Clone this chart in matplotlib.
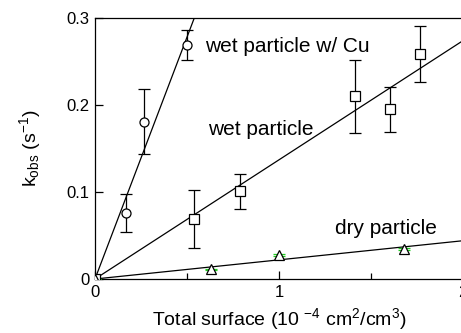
import numpy as np
import matplotlib
matplotlib.use("Agg")
import matplotlib.pyplot as plt

plt.rcParams["font.family"] = ["Liberation Sans", "DejaVu Sans"]
plt.rcParams["mathtext.fontset"] = "custom"
plt.rcParams["mathtext.rm"] = "Liberation Sans"
plt.rcParams["mathtext.it"] = "Liberation Sans:italic"

# wet particle w/ Cu (circulos)
cu_x = [0.0, 0.168, 0.266, 0.502]
cu_y = [0.0, 0.076, 0.181, 0.269]
cu_err = [0.0, 0.022, 0.037, 0.017]
cu_slope = 0.556

# wet particle (quadrados)
wet_x = [0.0, 0.54, 0.788, 1.413, 1.603, 1.766]
wet_y = [0.0, 0.069, 0.101, 0.210, 0.195, 0.259]
wet_err = [0.0, 0.033, 0.020, 0.042, 0.026, 0.032]
wet_slope = 0.137

# dry particle (triangulos)
dry_x = [0.0, 0.630, 1.0, 1.68]
dry_y = [0.0, 0.011, 0.028, 0.0345]
dry_err = [0.0, 0.001, 0.001, 0.001]
dry_slope = 0.022

fig = plt.figure(figsize=(4.61, 3.33), dpi=100)
ax = fig.add_axes([95 / 461, 54 / 333, 368 / 461, 261 / 333])

xx = np.array([0.0, 2.0])
for s in (cu_slope, wet_slope, dry_slope):
    ax.plot(xx, s * xx, color="black", lw=0.9, zorder=2)

estilo = dict(ls="none", mfc="white", mec="black", mew=0.9, ms=6.5,
              capsize=4, elinewidth=0.9, capthick=0.9, zorder=3)
ax.errorbar(cu_x, cu_y, yerr=cu_err, marker="o", ecolor="black", **estilo)
ax.errorbar(wet_x, wet_y, yerr=wet_err, marker="s", ecolor="black", **estilo)
ax.errorbar(dry_x, dry_y, yerr=dry_err, marker="^", ecolor="#22cc22", **estilo)

ax.text(0.598, 0.2606, "wet particle w/ Cu", fontsize=15, va="baseline")
ax.text(0.616, 0.1655, "wet particle", fontsize=15, va="baseline")
ax.text(1.304, 0.0517, "dry particle", fontsize=15, va="baseline")

ax.set_xlim(0, 2)
ax.set_ylim(0, 0.3)
ax.set_xticks([0, 1, 2])
ax.set_xticklabels(["0", "1", "2"])
ax.set_xticks([0.5, 1.5], minor=True)
ax.set_yticks([0, 0.1, 0.2, 0.3])
ax.set_yticklabels(["0", "0.1", "0.2", "0.3"])
ax.tick_params(direction="in", length=6, width=0.9, labelsize=12, pad=4)
ax.tick_params(which="minor", direction="in", length=4, width=0.9)
ax.spines["right"].set_visible(False)
for sp in ("left", "bottom", "top"):
    ax.spines[sp].set_linewidth(0.9)

ax.set_xlabel("Total surface (10 $^{-4}$ cm$^{2}$/cm$^{3}$)", fontsize=14, labelpad=5)
ax.set_ylabel("k$_{\\mathrm{obs}}$ (s$^{-1}$)", fontsize=14, labelpad=17)

fig.savefig("out.png", dpi=100)
